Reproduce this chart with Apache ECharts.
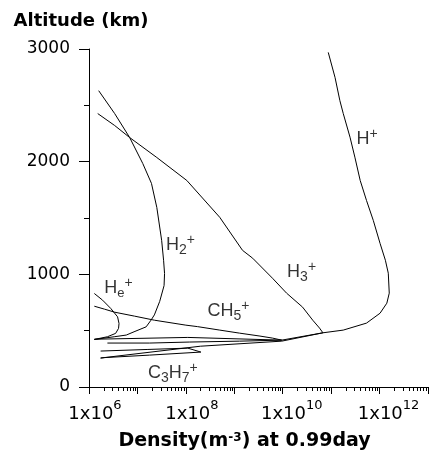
<!DOCTYPE html>
<html>
<head>
<meta charset="utf-8">
<script src="https://cdn.jsdelivr.net/npm/echarts@6.0.0/dist/echarts.min.js"></script>
<style>
html,body{margin:0;padding:0;background:#fff;}
#chart{width:433px;height:461px;}
</style>
</head>
<body>
<div id="chart"></div>
<script>
// ---- Data: [log10(density in m^-3), altitude in km] ----
const hPlus = [
  [10.94,2970],[11.08,2748],[11.18,2542],[11.25,2427],[11.39,2217],[11.49,2040],
  [11.60,1833],[11.73,1656],[11.87,1479],[12.01,1275],[12.12,1125],[12.18,1010],
  [12.20,833],[12.15,744],[12.01,655],[11.73,567],[11.25,505],[10.83,481],
  [9.98,416],[8.04,440],[6.11,424]
];
const h2Plus = [
  [6.20,2630],[6.53,2427],[6.84,2214],[7.11,1984],[7.29,1807],[7.40,1594],
  [7.50,1302],[7.54,1125],[7.56,1007],[7.55,900],[7.46,760],[7.35,640],
  [7.28,593],[7.18,534],[6.93,490],[6.77,461],[6.52,446],[6.11,422]
];
const h3Plus = [
  [6.18,2427],[6.53,2321],[6.84,2214],[7.40,2037],[8.02,1833],[8.70,1506],
  [9.17,1213],[9.38,1143],[9.79,965],[10.08,833],[10.41,709],[10.62,593],
  [10.76,523],[10.83,481],[9.98,407],[8.30,362],[6.24,257]
];
const hePlus = [
  [6.11,830],[6.28,771],[6.45,697],[6.59,623],[6.62,564],[6.61,520],
  [6.55,476],[6.38,446],[6.11,422]
];
const ch5Plus = [
  [6.11,717],[6.32,691],[6.53,664],[6.94,629],[7.35,593],[8.00,549],[8.24,536],
  [8.70,505],[9.11,478],[9.53,452],[9.79,434],[9.98,416],
  [9.11,407],[8.08,399],[7.25,390],[6.38,390]
];
const c3h7Plus = [
  [6.24,319],[7.20,333],[8.04,345],[8.31,310],[7.25,283],[6.32,261],[6.24,257]
];

// curve labels: [log10 density, altitude, key]
const curveLabels = [
  [11.74,2197,'hp'],[7.89,1258,'h2'],[10.39,1019,'h3'],
  [6.61,877,'he'],[8.88,673,'ch5'],[7.73,124,'c3h7']
];

// axes
const xMinExp = 6, xMaxExp = 13;
const xLabelExponents = [6, 8, 10, 12];
const yTickLabels = [0, 1000, 2000, 3000];
const yMin = 0, yMax = 3000;

// ---- Chart ----
const chart = echarts.init(document.getElementById('chart'), null, {renderer:'canvas'});

const lineSeries = (name, data) => ({
  name, type:'line', data, symbol:'none', showSymbol:false, silent:true,
  animation:false, smooth:false,
  lineStyle:{color:'#000', width:1}
});

const minorTicks = [];
for (let d = xMinExp; d < xMaxExp; d++) {
  for (let k = 2; k <= 9; k++) minorTicks.push([d + Math.log10(k), yMin]);
}

const labelText = {
  hp:   '{b|H}{sup|+}',
  h2:   '{b|H}{sub|2}{sup|+}',
  h3:   '{b|H}{sub|3}{sup|+}',
  he:   '{b|H}{e|e}{sup|+}',
  ch5:  '{b|CH}{sub|5}{sup|+}',
  c3h7: '{b|C}{sub|3}{b|H}{sub|7}{sup|+}'
};

const labelFont = 'Liberation Sans';
const richCurve = {
  b:  {fontFamily:labelFont, fontSize:18, lineHeight:24, color:'#000', verticalAlign:'middle'},
  sub:{fontFamily:labelFont, fontSize:14, lineHeight:14, color:'#000', verticalAlign:'bottom'},
  e:  {fontFamily:labelFont, fontSize:13, lineHeight:17, color:'#000', verticalAlign:'bottom'},
  sup:{fontFamily:labelFont, fontSize:14, lineHeight:14, color:'#000', verticalAlign:'top'}
};

const tickFont = 'DejaVu Sans';

chart.setOption({
  animation:false,
  backgroundColor:'#fff',
  grid:{left:89, right:5, top:49, bottom:74, containLabel:false},
  xAxis:{
    type:'value', min:xMinExp, max:xMaxExp, interval:1,
    name:'Density(m{s|-3}) at 0.99day',
    nameLocation:'middle', nameGap:45,
    nameTextStyle:{
      fontFamily:tickFont, fontWeight:'bold', fontSize:19, color:'#000',
      padding:[0,28,0,0],
      rich:{s:{fontFamily:tickFont, fontWeight:'bold', fontSize:12, color:'#000', verticalAlign:'top', lineHeight:12}}
    },
    axisLine:{show:true, onZero:false, lineStyle:{color:'#000', width:1}},
    axisTick:{show:true, length:7, lineStyle:{color:'#000'}},
    splitLine:{show:false},
    axisLabel:{
      margin:12, color:'#000',
      formatter:(v) => xLabelExponents.indexOf(v) >= 0
        ? '{' + (v >= 10 ? 'a2' : 'a1') + '|1x10}{s|' + v + '}' : '',
      rich:{
        a1:{fontFamily:tickFont, fontSize:18, lineHeight:24, color:'#000', padding:[0,0,0,12], verticalAlign:'bottom'},
        a2:{fontFamily:tickFont, fontSize:18, lineHeight:24, color:'#000', padding:[0,0,0,18], verticalAlign:'bottom'},
        s:{fontFamily:tickFont, fontSize:13, lineHeight:16, color:'#000', verticalAlign:'top'}
      }
    }
  },
  yAxis:{
    type:'value', min:yMin, max:yMax, interval:1000,
    name:'Altitude (km)', nameLocation:'end', nameGap:19,
    nameTextStyle:{fontFamily:tickFont, fontWeight:'bold', fontSize:18, color:'#000', padding:[0,16,0,0]},
    axisLine:{show:true, onZero:false, lineStyle:{color:'#000', width:1}},
    axisTick:{show:true, length:10, lineStyle:{color:'#000'}},
    minorTick:{show:true, splitNumber:2, length:5, lineStyle:{color:'#000'}},
    splitLine:{show:false},
    minorSplitLine:{show:false},
    axisLabel:{
      margin:19, fontFamily:tickFont, fontSize:17, color:'#000',
      formatter:(v) => yTickLabels.indexOf(v) >= 0 ? String(v) : ''
    }
  },
  series:[
    lineSeries('H+', hPlus),
    lineSeries('H2+', h2Plus),
    lineSeries('H3+', h3Plus),
    lineSeries('He+', hePlus),
    lineSeries('CH5+', ch5Plus),
    lineSeries('C3H7+', c3h7Plus),
    {
      type:'custom', name:'minorTicks', data:minorTicks, silent:true, animation:false, clip:false,
      renderItem:(params, api) => {
        const p = api.coord([api.value(0), api.value(1)]);
        const x = Math.round(p[0]) + 0.5;
        const y = Math.round(p[1]);
        return {type:'line', shape:{x1:x, y1:y, x2:x, y2:y + 4}, style:{stroke:'#000', lineWidth:1}};
      }
    },
    {
      type:'scatter', name:'labels', data:curveLabels, symbolSize:1, silent:true, animation:false,
      itemStyle:{color:'rgba(0,0,0,0)'},
      label:{
        show:true, position:'inside', color:'#000',
        formatter:(p) => labelText[p.data[2]],
        rich:richCurve
      }
    }
  ]
});
</script>
</body>
</html>
